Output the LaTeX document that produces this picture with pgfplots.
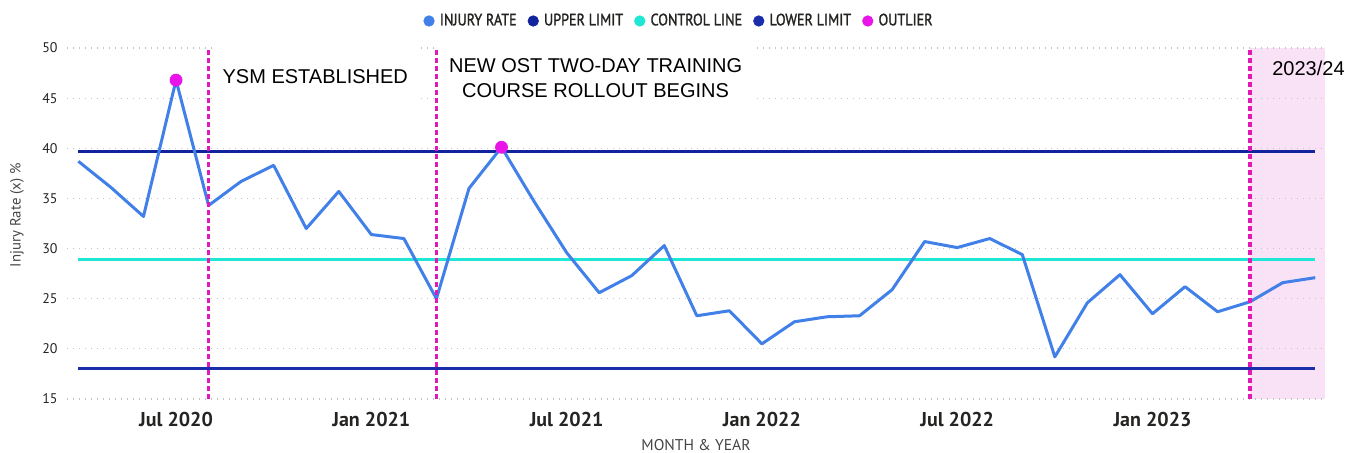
\documentclass[border=0pt]{standalone}
\usepackage{fontspec}
\setmainfont{PT Sans}
\newfontfamily\arialf{Liberation Sans}
\newfontfamily\legf[FakeStretch=0.86, FakeBold=1.5]{PT Sans}
\usepackage{pgfplots}
\pgfplotsset{compat=1.18}
\definecolor{injcol}{RGB}{65,128,232}
\definecolor{upcol}{RGB}{18,35,158}
\definecolor{lowcol}{RGB}{26,45,170}
\definecolor{ctlcol}{RGB}{32,230,212}
\definecolor{outcol}{RGB}{232,20,232}
\definecolor{vcol}{RGB}{225,25,185}
\definecolor{pinkc}{RGB}{249,226,245}
\definecolor{txtc}{RGB}{37,36,35}
\definecolor{gridc}{RGB}{195,195,195}
\pgfplotstableread{
x y
0 38.7
1 36.1
2 33.2
3 46.8
4 34.3
5 36.7
6 38.3
7 32.0
8 35.7
9 31.4
10 31.0
11 25.0
12 36.0
13 40.1
14 34.7
15 29.6
16 25.6
17 27.3
18 30.3
19 23.3
20 23.8
21 20.5
22 22.7
23 23.2
24 23.3
25 25.9
26 30.7
27 30.1
28 31.0
29 29.4
30 19.2
31 24.6
32 27.4
33 23.5
34 26.2
35 23.7
36 24.7
37 26.6
38 27.1
}\injury
\begin{document}
\begin{tikzpicture}[x=1pt,y=1pt]
\begin{axis}[
  at={(0,0)}, anchor=south west, scale only axis,
  width=629pt, height=175.5pt,
  set layers, clip=false,
  xmin=-0.35, xmax=38.3, ymin=15, ymax=50,
  axis line style={draw=none},
  major tick length=0pt, tick style={draw=none},
  ytick={15,20,...,50},
  ymajorgrids,
  grid style={gridc, line width=0.6pt, dash pattern=on 0.6pt off 2.4pt},
  xtick={3,9,15,21,27,33},
  xticklabels={Jul 2020,Jan 2021,Jul 2021,Jan 2022,Jul 2022,Jan 2023},
  /pgf/number format/assume math mode=true,
  xticklabel style={font=\bfseries\fontsize{10}{12}\selectfont, text=txtc, anchor=base, inner sep=0pt, yshift=-13.5pt},
  yticklabel style={font=\fontsize{7}{8}\selectfont, text=txtc, anchor=east, inner sep=0pt, xshift=-4.5pt},
  xlabel={MONTH \& YEAR},
  xlabel style={at={(axis description cs:0.5,0)}, anchor=base, inner sep=0pt, yshift=-25.5pt, font=\fontsize{7.8}{9}\selectfont, text=txtc!85},
  ylabel={Injury Rate (x) \%},
  ylabel style={at={(axis description cs:-0.0397,0.524)}, anchor=center, inner sep=0pt, font=\fontsize{7.4}{9}\selectfont, text=txtc!85},
  legend columns=5,
  legend style={at={(axis description cs:0.4873,1.077)}, anchor=center, draw=none, fill=none,
    font=\legf\fontsize{8.2}{9}\selectfont, text=txtc, inner sep=0pt,
    /tikz/every even column/.append style={column sep=3.5pt},
    /tikz/every odd column/.append style={column sep=0.6pt}},
  legend image code/.code={\fill[#1] (0pt,0pt) circle (2.6pt);},
]
\addlegendimage{injcol}\addlegendentry{INJURY RATE}
\addlegendimage{upcol}\addlegendentry{UPPER LIMIT}
\addlegendimage{ctlcol}\addlegendentry{CONTROL LINE}
\addlegendimage{lowcol}\addlegendentry{LOWER LIMIT}
\addlegendimage{outcol}\addlegendentry{OUTLIER}

\begin{pgfonlayer}{axis background}
\fill[pinkc] (axis cs:36,15) rectangle (axis cs:38.3,50);
\end{pgfonlayer}
\fill[white] (axis cs:4.1,50.2) rectangle (axis cs:10.5,44);
\fill[white] (axis cs:11.08,50.2) rectangle (axis cs:20.75,44);

\addplot[upcol, line width=1.45pt, forget plot] coordinates {(0,39.7) (38,39.7)};
\addplot[lowcol, line width=1.45pt, forget plot] coordinates {(0,18.0) (38,18.0)};
\addplot[ctlcol, line width=1.45pt, forget plot] coordinates {(0,28.9) (38,28.9)};
\addplot[injcol, line width=1.5pt, line join=round, forget plot] table[x=x,y=y] {\injury};
\addplot[only marks, mark=*, mark size=3pt, outcol, forget plot] coordinates {(3,46.8) (13,40.1)};

\addplot[vcol, line width=1.75pt, dash pattern=on 2.5pt off 1.5pt, forget plot] coordinates {(4,15) (4,50)};
\addplot[vcol, line width=1.75pt, dash pattern=on 2.5pt off 1.5pt, forget plot] coordinates {(11,15) (11,50)};
\addplot[vcol, line width=1.75pt, dash pattern=on 2.5pt off 1.5pt, forget plot] coordinates {(36,15) (36,50)};

\node[anchor=base west, inner sep=0pt, font=\arialf\fontsize{10}{12}\selectfont] at (axis cs:4.42,46.5) {YSM ESTABLISHED};
\node[anchor=base, inner sep=0pt, font=\arialf\fontsize{10}{12}\selectfont] at (axis cs:15.89,47.6) {NEW OST TWO-DAY TRAINING};
\node[anchor=base, inner sep=0pt, font=\arialf\fontsize{10}{12}\selectfont] at (axis cs:15.89,45.1) {COURSE ROLLOUT BEGINS};
\node[anchor=base west, inner sep=0pt, font=\arialf\fontsize{10}{12}\selectfont] at (axis cs:36.67,47.3) {2023/24};
\end{axis}
\pgfresetboundingbox
\useasboundingbox (-33.5,-26.5) rectangle (639,199.5);
\end{tikzpicture}
\end{document}
